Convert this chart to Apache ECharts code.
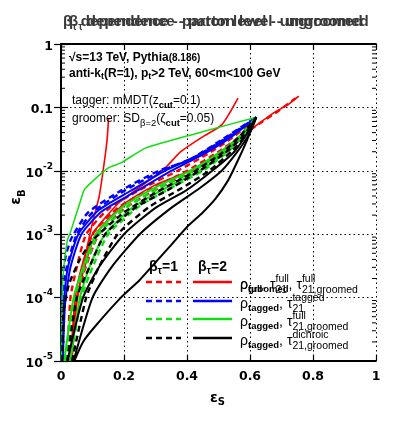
<!DOCTYPE html>
<html><head><meta charset="utf-8">
<script src="https://cdn.jsdelivr.net/npm/echarts@6/dist/echarts.min.js"></script>
<style>html,body{margin:0;padding:0;background:#fff}#c{width:399px;height:421px}</style>
</head><body><div id="c"></div>
<script>
// ---- data ----
const xTicks = [0, 0.2, 0.4, 0.6, 0.8, 1];
const yDecades = [1e-5, 1e-4, 1e-3, 1e-2, 0.1, 1];
const yTickLabels = ['10^-5', '10^-4', '10^-3', '10^-2', '0.1', '1'];

// red: rho_full / rho_groomed, tau_full
const redSolidSteep = [[0.035,1e-5],[0.05,8e-5],[0.07,3e-4],[0.085,7e-4],[0.102,1.67e-3],[0.121,3.9e-3],[0.134,0.0103],[0.146,0.03],[0.151,0.066]];
const redSolidA = [[0.03,1e-5],[0.045,1e-4],[0.065,3e-4],[0.1,1e-3],[0.18,3e-3],[0.26,6e-3],[0.33,0.011],[0.38,0.02],[0.448,0.034],[0.51,0.053],[0.562,0.14]];
const redSolidB = [[0.03,1e-5],[0.05,1e-4],[0.075,3e-4],[0.11,1e-3],[0.2,3e-3],[0.3,6e-3],[0.41,0.01],[0.5,0.018],[0.57,0.033],[0.62,0.052],[0.68,0.085],[0.72,0.11],[0.755,0.15]];
const redDashA = [[0.02,1e-5],[0.03,1e-4],[0.05,3e-4],[0.08,1e-3],[0.15,2.5e-3],[0.25,5e-3],[0.37,0.01],[0.47,0.019],[0.55,0.035],[0.62,0.07]];
const redDashB = [[0.025,1e-5],[0.045,1e-4],[0.07,3e-4],[0.1,1e-3],[0.18,2.6e-3],[0.28,5e-3],[0.4,0.01],[0.5,0.02],[0.58,0.038],[0.64,0.06],[0.69,0.088],[0.745,0.14]];
const redDashC = [[0.035,1e-5],[0.05,1e-4],[0.08,3.2e-4],[0.12,1e-3],[0.2,2.5e-3],[0.3,5e-3],[0.42,0.01],[0.52,0.022],[0.58,0.04],[0.62,0.07]];
// blue: rho_tagged, tau_tagged
const blueDashA = [[0.001,1e-5],[0.002,5e-5],[0.004,2e-4],[0.015,4.5e-4],[0.03,8e-4],[0.04,1e-3],[0.086,2.2e-3],[0.194,5e-3],[0.31,0.01],[0.403,0.0145],[0.511,0.031],[0.62,0.07]];
const blueDashB = [[0.003,1e-5],[0.006,6e-5],[0.012,2.2e-4],[0.05,1e-3],[0.1,2.2e-3],[0.2,4.8e-3],[0.32,0.01],[0.42,0.016],[0.52,0.032],[0.62,0.07]];
const blueSolidA = [[0.004,1e-5],[0.009,8e-5],[0.022,3e-4],[0.055,1e-3],[0.12,2.4e-3],[0.22,4.8e-3],[0.33,0.01],[0.43,0.017],[0.53,0.033],[0.62,0.07]];
const blueSolidB = [[0.006,1e-5],[0.013,8e-5],[0.03,3e-4],[0.065,1e-3],[0.13,2.3e-3],[0.24,4.8e-3],[0.35,0.01],[0.45,0.018],[0.54,0.034],[0.62,0.07]];
// green: rho_tagged, tau_full_groomed
const greenSolidTop = [[0.001,1e-5],[0.002,3e-5],[0.006,2e-4],[0.02,8e-4],[0.029,1.04e-3],[0.063,3.5e-3],[0.076,5.2e-3],[0.149,0.011],[0.19,0.0133],[0.27,0.023],[0.435,0.0396],[0.62,0.07]];
const greenSolidB = [[0.01,1e-5],[0.04,1e-4],[0.07,3e-4],[0.11,1e-3],[0.2,2.8e-3],[0.3,5.5e-3],[0.41,0.01],[0.5,0.019],[0.57,0.036],[0.62,0.07]];
const greenSolidC = [[0.03,1e-5],[0.06,1e-4],[0.09,3e-4],[0.14,1e-3],[0.23,2.7e-3],[0.33,5.3e-3],[0.44,0.01],[0.52,0.019],[0.58,0.037],[0.62,0.07]];
const greenDashA = [[0.015,1e-5],[0.045,1e-4],[0.075,3e-4],[0.12,1e-3],[0.21,2.7e-3],[0.31,5.3e-3],[0.42,0.01],[0.51,0.019],[0.57,0.036],[0.62,0.07]];
const greenDashB = [[0.03,1e-5],[0.065,1e-4],[0.1,3e-4],[0.15,1e-3],[0.25,2.8e-3],[0.35,5.4e-3],[0.45,0.01],[0.53,0.02],[0.58,0.037],[0.62,0.07]];
// black: rho_tagged, tau_dichroic_groomed
const blackDashA = [[0.02,1e-5],[0.05,1e-4],[0.09,3e-4],[0.14,1e-3],[0.24,2.7e-3],[0.34,5e-3],[0.44,0.01],[0.52,0.019],[0.58,0.036],[0.62,0.07]];
const blackDashB = [[0.035,1e-5],[0.08,1e-4],[0.12,3e-4],[0.18,1e-3],[0.28,2.7e-3],[0.38,5.2e-3],[0.47,0.01],[0.54,0.02],[0.59,0.038],[0.62,0.07]];
const blackDashC = [[0.004,1e-5],[0.008,6e-5],[0.025,1.6e-4],[0.06,4e-4],[0.1,8e-4],[0.2,2.2e-3],[0.3,4.5e-3],[0.42,0.0095],[0.51,0.019],[0.57,0.036],[0.62,0.07]];
const blackSolidA = [[0.02,1e-5],[0.07,1e-4],[0.12,3e-4],[0.2,1e-3],[0.3,2.6e-3],[0.4,5e-3],[0.48,0.01],[0.55,0.02],[0.59,0.038],[0.62,0.07]];
const blackSolidB = [[0.04,1e-5],[0.1,1e-4],[0.16,3e-4],[0.25,1e-3],[0.35,2.6e-3],[0.44,5.3e-3],[0.51,0.01],[0.56,0.02],[0.6,0.04],[0.62,0.07]];
const blackSolidLow = [[0.042,1e-5],[0.07,2e-5],[0.108,3.5e-5],[0.19,1e-4],[0.25,1.9e-4],[0.3,3.6e-4],[0.35,6.8e-4],[0.4,1.3e-3],[0.45,2.2e-3],[0.49,3.6e-3],[0.53,7e-3],[0.56,0.014],[0.59,0.03],[0.62,0.07]];

// ---- drawing ----
const RED = '#ff0000', BLUE = '#0000ff', GREEN = '#11dd11', BLACK = '#000000';
const DJ = 'DejaVu Sans', LS = 'Liberation Sans';
const curves = [
  [redDashA, RED, true], [redDashB, RED, true], [redDashC, RED, true],
  [redSolidSteep, RED, false, 1.6], [redSolidA, RED, false, 1.6], [redSolidB, RED, false, 1.6],
  [blueDashA, BLUE, true], [blueDashB, BLUE, true], [blueSolidA, BLUE, false], [blueSolidB, BLUE, false],
  [greenSolidTop, GREEN, false, 1.5], [greenSolidB, GREEN, false], [greenSolidC, GREEN, false],
  [greenDashA, GREEN, true], [greenDashB, GREEN, true],
  [blackDashA, BLACK, true], [blackDashB, BLACK, true], [blackDashC, BLACK, true],
  [blackSolidA, BLACK, false], [blackSolidB, BLACK, false], [blackSolidLow, BLACK, false]
];
const series = curves.map(([d, c, dash, w]) => ({
  type: 'line', data: d, showSymbol: false, smooth: 0.2, clip: true, silent: true,
  lineStyle: { color: c, width: w || (dash ? 2.4 : 2), type: dash ? [6, 4] : 'solid' }
}));

const cnv = document.createElement('canvas').getContext('2d');
function tw(t, s, w, f) { cnv.font = (w || 'normal') + ' ' + s + 'px "' + (f || LS) + '"'; return cnv.measureText(t).width; }
function txt(x, y, t, s, w, color, f) {
  return { type: 'text', x: x, y: y, silent: true, z: 100,
    style: { text: t, fontSize: s, fontFamily: f || LS, fontWeight: w || 'normal', fill: color || '#000',
      align: 'left', verticalAlign: 'middle', textAlign: 'left', textVerticalAlign: 'middle' } };
}
function comp(x, y, parts, color, f) {
  let cx = x; const els = [];
  for (const p of parts) {
    const ff = p.f || f;
    if (p.sup !== undefined) {
      els.push(txt(cx, y - 6, p.sup, p.s, p.w, color, ff));
      els.push(txt(cx, y + 5, p.sub, p.s, p.w, color, ff));
      cx += Math.max(tw(p.sup, p.s, p.w, ff), tw(p.sub, p.s, p.w, ff));
    } else {
      els.push(txt(cx, y + (p.dy || 0), p.t, p.s, p.w, color, ff));
      cx += tw(p.t, p.s, p.w, ff);
    }
  }
  return els;
}

const chart = echarts.init(document.getElementById('c'), null, { renderer: 'canvas' });
const axLine = { show: true, lineStyle: { color: '#000', width: 1.8 } };
const dotted = { show: true, lineStyle: { color: '#000', width: 1, type: [1.5, 3] } };
chart.setOption({
  animation: false,
  backgroundColor: '#fff',
  grid: { left: 61, right: 23, top: 44, bottom: 60, containLabel: false },
  xAxis: [
    { type: 'value', min: 0, max: 1, interval: 0.2, position: 'bottom', axisLine: axLine,
      axisTick: { inside: true, length: 6, lineStyle: { color: '#000', width: 1.2 } },
      axisLabel: { fontSize: 12.5, fontWeight: 'bold', fontFamily: DJ, color: '#000', margin: 9,
        formatter: v => { const i = xTicks.findIndex(t => Math.abs(t - v) < 1e-9); return i < 0 ? '' : String(xTicks[i]); } },
      splitLine: dotted },
    { type: 'value', min: 0, max: 1, interval: 0.2, position: 'top', axisLine: axLine,
      axisTick: { inside: true, length: 6, lineStyle: { color: '#000', width: 1.2 } },
      axisLabel: { show: false }, splitLine: { show: false } }
  ],
  yAxis: [
    { type: 'log', logBase: 10, min: 1e-5, max: 1, position: 'left', axisLine: axLine,
      axisTick: { inside: true, length: 7, lineStyle: { color: '#000', width: 1.2 } },
      axisLabel: { fontFamily: DJ, color: '#000', margin: 8,
        formatter: v => { const i = yDecades.findIndex(t => Math.abs(Math.log10(t) - Math.log10(v)) < 1e-6);
          if (i < 0) return ''; const l = yTickLabels[i];
          if (l.indexOf('^') < 0) return '{b|' + l + '}';
          const [b, e] = l.split('^'); return '{b|' + b + '}{s|' + e + '}'; },
        rich: { b: { fontSize: 12.5, fontWeight: 'bold', fontFamily: DJ, color: '#000', verticalAlign: 'bottom', lineHeight: 18 },
                s: { fontSize: 9, fontWeight: 'bold', fontFamily: DJ, color: '#000', verticalAlign: 'top', lineHeight: 18 } } },
      splitLine: dotted },
    { type: 'log', logBase: 10, min: 1e-5, max: 1, position: 'right', axisLine: axLine,
      axisTick: { inside: true, length: 7, lineStyle: { color: '#000', width: 1.2 } },
      axisLabel: { show: false }, splitLine: { show: false } }
  ],
  series: series
});

// minor ticks (log) from the axis scale
const G = [];
const x0 = chart.convertToPixel({ xAxisIndex: 0 }, 0), x1 = chart.convertToPixel({ xAxisIndex: 0 }, 1);
for (let d = 0; d < yDecades.length - 1; d++) {
  for (let k = 2; k <= 9; k++) {
    const py = chart.convertToPixel({ yAxisIndex: 0 }, k * yDecades[d]);
    G.push({ type: 'line', silent: true, z: 50, shape: { x1: x0, y1: py, x2: x0 + 4, y2: py }, style: { stroke: '#000', lineWidth: 1 } });
    G.push({ type: 'line', silent: true, z: 50, shape: { x1: x1 - 4, y1: py, x2: x1, y2: py }, style: { stroke: '#000', lineWidth: 1 } });
  }
}

// title (two overlapping copies)
const tBody = ' dependence - parton level - ungroomed';
const tS = 15 * 300 / (tw('β', 15, 'bold') + tw('τ', 10, 'bold') + tw(tBody, 15, 'bold'));
const titleParts = [{ t: 'β', s: tS, w: 'bold' }, { t: 'τ', s: tS * 0.67, w: 'bold', dy: 5 }, { t: tBody, s: tS, w: 'bold' }];
G.push(...comp(63, 22, titleParts, '#3a3a3a'));
G.push(...comp(69, 22, titleParts, '#3a3a3a'));

// annotations
G.push(...comp(69, 58, [{ t: '√s=13 TeV, Pythia', s: 12, w: 'bold' }, { t: '(8.186)', s: 10, w: 'bold' }]));
G.push(...comp(69, 74, [{ t: 'anti-k', s: 12, w: 'bold' }, { t: 't', s: 9, w: 'bold', dy: 3 }, { t: '(R=1), p', s: 12, w: 'bold' },
  { t: 't', s: 9, w: 'bold', dy: 3 }, { t: '>2 TeV, 60<m<100 GeV', s: 12, w: 'bold' }]));
G.push(...comp(72, 101, [{ t: 'tagger: mMDT(z', s: 12 }, { t: 'cut', s: 9.5, dy: 4, w: 'bold' }, { t: '=0.1)', s: 12 }]));
G.push(...comp(72, 119, [{ t: 'groomer: SD', s: 12 }, { t: 'β=2', s: 9.5, dy: 4 }, { t: '(ζ', s: 12 }, { t: 'cut', s: 9.5, dy: 4, w: 'bold' }, { t: '=0.05)', s: 12 }]));

// axis names
G.push(...comp(210, 398, [{ t: 'ε', s: 14, w: 'bold' }, { t: 'S', s: 10, w: 'bold', dy: 4 }], '#000', DJ));
G.push({ type: 'text', x: 18, y: 197, rotation: Math.PI / 2, silent: true,
  style: { text: '{m|ε}{s|B}', align: 'center', verticalAlign: 'middle', textAlign: 'center', textVerticalAlign: 'middle',
    rich: { m: { fontSize: 14, fontWeight: 'bold', fontFamily: DJ, verticalAlign: 'top', lineHeight: 18 },
            s: { fontSize: 10, fontWeight: 'bold', fontFamily: DJ, verticalAlign: 'bottom', lineHeight: 18 } } } });

// legend
G.push(...comp(149, 267, [{ t: 'β', s: 14, w: 'bold' }, { t: 'τ', s: 10, w: 'bold', dy: 4 }, { t: '=1', s: 14, w: 'bold' }]));
G.push(...comp(198, 267, [{ t: 'β', s: 14, w: 'bold' }, { t: 'τ', s: 10, w: 'bold', dy: 4 }, { t: '=2', s: 14, w: 'bold' }]));
const legRows = [[282, RED], [301, BLUE], [319, GREEN], [338, BLACK]];
for (const [ly, c] of legRows) {
  G.push({ type: 'line', silent: true, z: 60, shape: { x1: 146, y1: ly, x2: 181, y2: ly }, style: { stroke: c, lineWidth: 2.4, lineDash: [6, 4] } });
  G.push({ type: 'line', silent: true, z: 60, shape: { x1: 193, y1: ly, x2: 232, y2: ly }, style: { stroke: c, lineWidth: 2.4 } });
}
const LX = 240;
G.push(...comp(LX, 285, [{ t: 'ρ', s: 14 }, { t: 'full', s: 9.5, dy: 4, w: 'bold' }, { t: ', τ', s: 14 }, { sup: 'full', sub: '21', s: 10.5 }]));
G.push(...comp(LX, 285, [{ t: 'ρ', s: 14 }, { t: 'groomed', s: 9.5, dy: 4, w: 'bold' }, { t: ', τ', s: 14 }, { sup: 'full', sub: '21,groomed', s: 10.5 }]));
G.push(...comp(LX, 304, [{ t: 'ρ', s: 14 }, { t: 'tagged', s: 9.5, dy: 4, w: 'bold' }, { t: ', τ', s: 14 }, { sup: 'tagged', sub: '21', s: 10.5 }]));
G.push(...comp(LX, 322, [{ t: 'ρ', s: 14 }, { t: 'tagged', s: 9.5, dy: 4, w: 'bold' }, { t: ', τ', s: 14 }, { sup: 'full', sub: '21,groomed', s: 10.5 }]));
G.push(...comp(LX, 341, [{ t: 'ρ', s: 14 }, { t: 'tagged', s: 9.5, dy: 4, w: 'bold' }, { t: ', τ', s: 14 }, { sup: 'dichroic', sub: '21,groomed', s: 10.5 }]));

chart.setOption({ graphic: G });
</script></body></html>
